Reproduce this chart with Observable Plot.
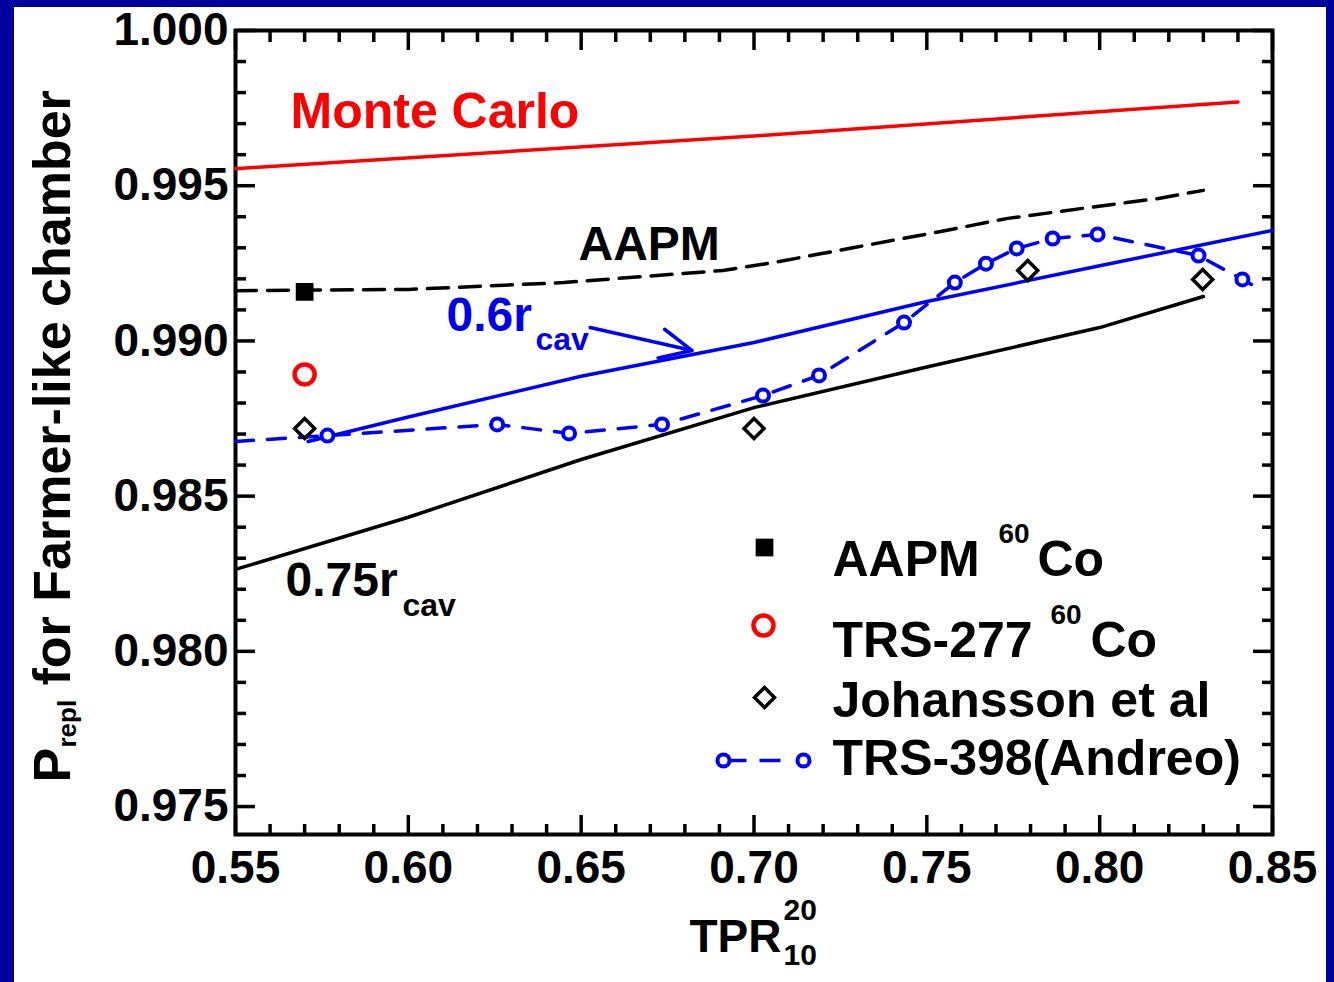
<!DOCTYPE html>
<html><head><meta charset="utf-8">
<script src="https://cdn.jsdelivr.net/npm/d3@7"></script>
<script src="https://cdn.jsdelivr.net/npm/@observablehq/plot@0.6"></script>
<style>
html,body{margin:0;padding:0;background:#00009c;width:1334px;height:982px;overflow:hidden}
#panel{position:absolute;left:14px;top:7px;width:1312px;height:975px;background:#fff}
</style></head>
<body><div id="panel"></div>
<script>
// ---- data ----
const xMajor = [0.55, 0.60, 0.65, 0.70, 0.75, 0.80, 0.85];
const yMajor = [0.975, 0.980, 0.985, 0.990, 0.995, 1.000];

const mcX = [0.55, 0.70, 0.84];
const mcY = [0.99555, 0.99660, 0.99770];

const aapmX = [0.55, 0.60, 0.645, 0.691, 0.706, 0.729, 0.751, 0.773, 0.795, 0.817, 0.830];
const aapmY = [0.99162, 0.99166, 0.99188, 0.99227, 0.99253, 0.99301, 0.99346, 0.99394, 0.99427, 0.99459, 0.99485];

const r06X = [0.571, 0.60, 0.65, 0.70, 0.75, 0.80, 0.85];
const r06Y = [0.98676, 0.98755, 0.98886, 0.98995, 0.99127, 0.99242, 0.99356];

const r075X = [0.55, 0.60, 0.65, 0.70, 0.75, 0.80, 0.83];
const r075Y = [0.98264, 0.98432, 0.98618, 0.98785, 0.98916, 0.99043, 0.99143];

const trsX = [0.5766, 0.6257, 0.6465, 0.6734, 0.7026, 0.7188, 0.7434, 0.7581, 0.7671, 0.7760, 0.7864, 0.7994, 0.8286, 0.8413];
const trsY = [0.98695, 0.98731, 0.98702, 0.98731, 0.98824, 0.98889, 0.99059, 0.99188, 0.99249, 0.99298, 0.99330, 0.99343, 0.99275, 0.99198];
const trsLineX = [0.55, ...trsX, 0.8465];
const trsLineY = [0.98676, ...trsY, 0.99166];

const johX = [0.57, 0.70, 0.7792, 0.8298];
const johY = [0.98718, 0.98718, 0.99227, 0.99198];

const aapmCoX = [0.57], aapmCoY = [0.99158];
const trs277X = [0.57], trs277Y = [0.98892];

const arrowX = [0.6526, 0.6821];
const arrowY = [0.99043, 0.98969];

// ---- helpers ----
const pts = (X, Y) => X.map((x, i) => ({x, y: Y[i]}));
const FX = 235, FY = 30; // page position of frame top-left
const BLUE = "#0000ff", RED = "#ff0000";
const FONT = "'Liberation Sans', Arial, Helvetica, sans-serif";
const lab = (str, px, py, size, opts = {}) => Plot.text([str], {
  text: d => d, frameAnchor: "top-left", dx: px - FX, dy: py - FY,
  textAnchor: "start", lineAnchor: "middle", fontSize: size, fontWeight: "bold",
  fontFamily: FONT, fill: "black", ...opts
});
const sym = (px, py, opts) => Plot.dot([0], {frameAnchor: "top-left", dx: px - FX, dy: py - FY, ...opts});

const yMinor = d3.range(975, 1001).map(d => d / 1000).filter(v => !yMajor.some(m => Math.abs(m - v) < 1e-9));
const xMinor = d3.range(55, 86).map(d => d / 100).filter(v => !xMajor.some(m => Math.abs(m - v) < 1e-9));

const ax = {stroke: "black", strokeWidth: 3.5, label: null};
const LW = 3.5;
const legendLine = {draw(ctx) { ctx.moveTo(-40, 0); ctx.lineTo(40, 0); }};

const chart = Plot.plot({
  width: 1312, height: 975,
  marginLeft: 221, marginRight: 54, marginTop: 23, marginBottom: 148,
  x: {domain: [0.55, 0.85], axis: null},
  y: {domain: [0.9741, 1.0], axis: null},
  style: {background: "white", fontFamily: FONT, overflow: "visible"},
  marks: [
    // axes: inward ticks on all four sides
    Plot.axisX(xMinor, {...ax, anchor: "bottom", tickSize: -10, fill: "none"}),
    Plot.axisX(xMinor, {...ax, anchor: "top", tickSize: -11, fill: "none"}),
    Plot.axisX(xMajor, {...ax, anchor: "top", tickSize: -19, fill: "none"}),
    Plot.axisX(xMajor, {...ax, anchor: "bottom", tickSize: -19, tickPadding: 35, tickFormat: d3.format(".2f"),
      fill: "black", fontSize: 46, fontWeight: "bold", fontFamily: FONT}),
    Plot.axisY(yMinor, {...ax, anchor: "left", tickSize: -11, fill: "none"}),
    Plot.axisY(yMinor, {...ax, anchor: "right", tickSize: -11, fill: "none"}),
    Plot.axisY(yMajor, {...ax, anchor: "right", tickSize: -20, fill: "none"}),
    Plot.axisY(yMajor, {...ax, anchor: "left", tickSize: -20, tickPadding: 27, tickFormat: d3.format(".3f"),
      fill: "black", fontSize: 46, fontWeight: "bold", fontFamily: FONT}),
    Plot.frame({stroke: "black", strokeWidth: 4}),

    // curves
    Plot.line(pts(mcX, mcY), {x: "x", y: "y", stroke: RED, strokeWidth: LW}),
    Plot.line(pts(aapmX, aapmY), {x: "x", y: "y", stroke: "black", strokeWidth: LW, strokeDasharray: "21,11"}),
    Plot.line(pts(r075X, r075Y), {x: "x", y: "y", stroke: "black", strokeWidth: LW}),
    Plot.line(pts(r06X, r06Y), {x: "x", y: "y", stroke: BLUE, strokeWidth: LW}),
    Plot.line(pts(trsLineX, trsLineY), {x: "x", y: "y", stroke: BLUE, strokeWidth: LW, strokeDasharray: "18,14"}),
    Plot.arrow([{x1: arrowX[0], y1: arrowY[0], x2: arrowX[1], y2: arrowY[1]}],
      {x1: "x1", y1: "y1", x2: "x2", y2: "y2", stroke: BLUE, strokeWidth: LW, headLength: 18, headAngle: 50}),

    // markers
    Plot.dot(pts(trsX, trsY), {x: "x", y: "y", r: 6, stroke: BLUE, strokeWidth: 4, fill: "white"}),
    Plot.dot(pts(johX, johY), {x: "x", y: "y", symbol: "diamond2", r: 9, stroke: "black", strokeWidth: 3.5, fill: "none"}),
    Plot.dot(pts(aapmCoX, aapmCoY), {x: "x", y: "y", symbol: "square", r: 10, fill: "black"}),
    Plot.dot(pts(trs277X, trs277Y), {x: "x", y: "y", r: 10, stroke: RED, strokeWidth: 4.5, fill: "white"}),

    // in-plot labels
    lab("Monte Carlo", 290, 111, 50, {fill: RED}),
    lab("AAPM", 578, 244, 48),
    lab("0.6r", 446, 315, 48, {fill: "#0000ee"}),
    lab("cav", 535, 339, 32, {fill: "#0000ee"}),
    lab("0.75r", 285, 580, 48),
    lab("cav", 402, 605, 32),

    // legend
    sym(764, 547, {symbol: "square", r: 10, fill: "black"}),
    sym(763, 625, {r: 10, stroke: RED, strokeWidth: 4.5, fill: "white"}),
    sym(764, 697, {symbol: "diamond2", r: 9, stroke: "black", strokeWidth: 3.5, fill: "none"}),
    sym(763, 760, {symbol: legendLine, stroke: BLUE, strokeWidth: LW, fill: "none", strokeDasharray: "23,13,21,50"}),
    sym(723, 760, {r: 6, stroke: BLUE, strokeWidth: 4, fill: "white"}),
    sym(803, 760, {r: 6, stroke: BLUE, strokeWidth: 4, fill: "white"}),
    lab("AAPM", 832, 559, 50),
    lab("60", 998, 534, 28),
    lab("Co", 1037, 559, 50),
    lab("TRS-277", 832, 640, 50),
    lab("60", 1050, 615, 28),
    lab("Co", 1090, 640, 50),
    lab("Johansson et al", 832, 700, 50),
    lab("TRS-398(Andreo)", 832, 758, 50),

    // axis titles
    lab("TPR", 689, 937, 46),
    lab("20", 783, 910, 30),
    lab("10", 783, 955, 30),
    lab("P", 53, 782, 52, {rotate: -90}),
    lab("repl", 67, 747, 26, {rotate: -90}),
    lab("for Farmer-like chamber", 53, 685, 52, {rotate: -90})
  ]
});
document.getElementById("panel").appendChild(chart);
</script>
</body></html>
